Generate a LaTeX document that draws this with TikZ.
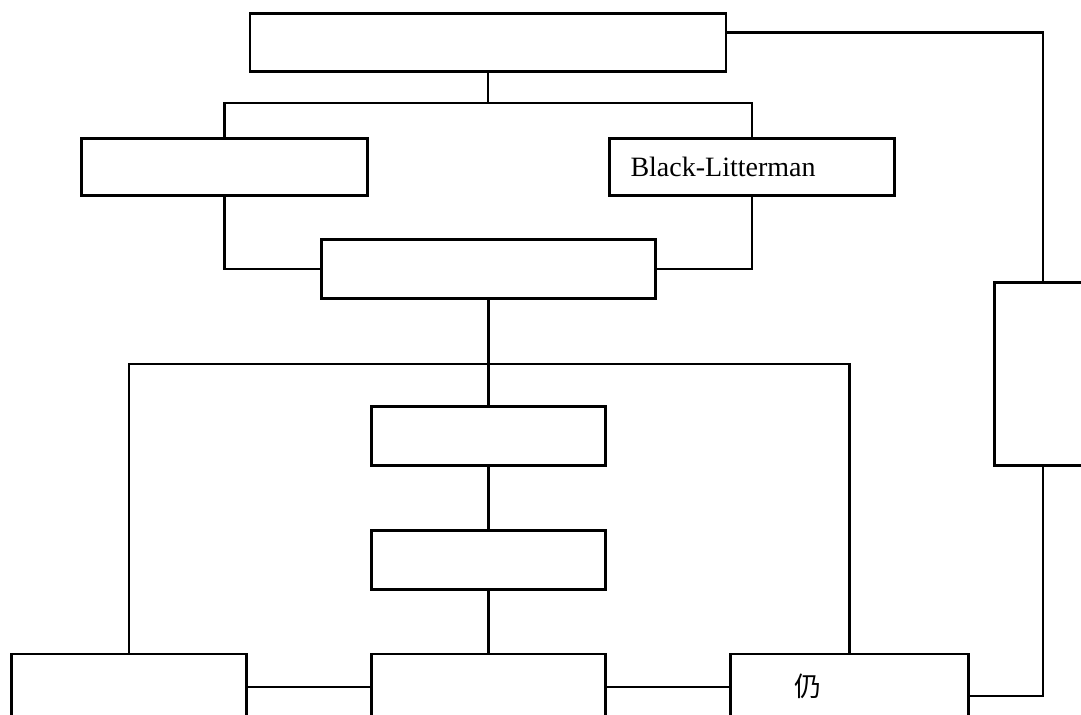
\documentclass[tikz,border=0pt]{standalone}
\usepackage{fontspec}
\setmainfont{Liberation Serif}
\newfontfamily\cjkfont{Noto Sans CJK SC}

\begin{document}
\begin{tikzpicture}[
  x=0.5pt, y=-0.5pt,
  box/.style={draw, line width=1.4pt, inner sep=0pt},
  link/.style={line width=1.1pt},
  label text/.style={inner sep=0pt, font=\fontsize{14}{16}\selectfont}
  ]
  \useasboundingbox (0,0) rectangle (1081,715);

  % upper part
  \node[box, minimum width=238pt, minimum height=29pt] (top) at (488,42.5) {};
  \node[box, minimum width=143pt, minimum height=28.5pt] (lft) at (224.5,167) {};
  \node[box, minimum width=142.5pt, minimum height=28.5pt] (bl) at (752,167) {};
  \node[label text, anchor=west] (bltxt) at ([xshift=11pt]bl.west) {Black-Litterman};
  \node[box, minimum width=167pt, minimum height=29.5pt] (mid) at (488.5,269) {};

  % middle column
  \node[box, minimum width=117pt, minimum height=29.5pt] (s1) at (488.5,436) {};
  \node[box, minimum width=117pt, minimum height=29.5pt] (s2) at (488.5,560) {};

  % bottom row (cut off at the lower edge)
  \node[box, minimum width=117.5pt, minimum height=33pt] (b1) at (129,687) {};
  \node[box, minimum width=117pt, minimum height=33pt] (b2) at (488.5,687) {};
  \node[box, minimum width=119pt, minimum height=33pt] (b3) at (849.5,687) {};
  \node[label text, font=\cjkfont\fontsize{13.5}{15}\selectfont] (reng) at (808,686) {仍};

  % right side
  \node[box, minimum width=48.5pt, minimum height=91.5pt] (rt) at (1043,374) {};

  \coordinate (j1) at (488,103);
  \coordinate (j2) at (488.5,364);

  \draw[link] (top.south) -- (j1);
  \draw[link] (lft.north) |- (j1) -| (bl.north);
  \draw[link] (lft.south) |- (mid.west);
  \draw[link] (bl.south) |- (mid.east);
  \draw[link] (mid.south) -- (j2);
  \draw[link] (b1.north) |- (j2) -| (b3.north);
  \draw[link] (j2) -- (s1.north);
  \draw[link] (s1.south) -- (s2.north);
  \draw[link] (s2.south) -- (b2.north);
  \draw[link] (b1.east) -- (b2.west);
  \draw[link] (b2.east) -- (b3.west);
  \draw[link] ([yshift=5pt]top.east) -| (rt.north);
  \draw[link] ([yshift=-4.5pt]b3.east) -| (rt.south);
\end{tikzpicture}
\end{document}
